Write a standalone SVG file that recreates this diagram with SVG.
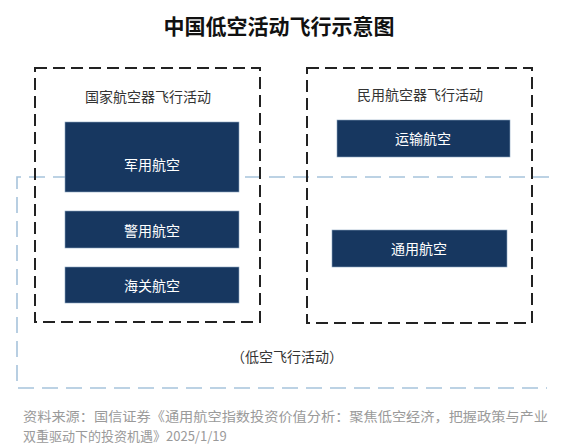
<svg xmlns="http://www.w3.org/2000/svg" width="567" height="448" viewBox="0 0 567 448">
<style>
.t{font-family:"Noto Sans CJK SC","Noto Sans",sans-serif;}
.title{font-size:21px;font-weight:bold;fill:#111;text-anchor:middle;}
.grp{fill:none;stroke:#222;stroke-width:2;stroke-dasharray:12 6;}
.low{fill:none;stroke:#a7c3db;stroke-width:1.6;stroke-dasharray:16 8;}
.box{fill:#173760;stroke:#8aa6c0;stroke-width:0.6;}
.bl{font-size:14px;fill:#fff;text-anchor:middle;}
.gl{font-size:14px;fill:#333;text-anchor:middle;}
.src{font-size:13px;fill:#9a9a9a;font-family:"Noto Sans CJK SC",sans-serif;}
</style>
<rect width="567" height="448" fill="#fff"/>
<text class="t title" x="279" y="34">中国低空活动飞行示意图</text>
<g id="connectors">
<path class="low" d="M549 177 H17 V388 H547"/>
</g>
<g id="national">
<rect class="grp" x="35" y="68" width="225" height="254"/>
<text class="t gl" x="148" y="102">国家航空器飞行活动</text>
</g>
<g id="civil">
<rect class="grp" x="307" y="68" width="225" height="255"/>
<text class="t gl" x="420" y="100">民用航空器飞行活动</text>
</g>
<g id="military">
<rect class="box" x="65" y="122" width="174" height="70"/>
<text class="t bl" x="152" y="170">军用航空</text>
</g>
<g id="police">
<rect class="box" x="65" y="211" width="174" height="37"/>
<text class="t bl" x="152" y="236">警用航空</text>
</g>
<g id="customs">
<rect class="box" x="65" y="267" width="174" height="36"/>
<text class="t bl" x="152" y="291">海关航空</text>
</g>
<g id="transport">
<rect class="box" x="337" y="120" width="173" height="37"/>
<text class="t bl" x="423" y="144">运输航空</text>
</g>
<g id="general">
<rect class="box" x="332" y="230" width="175" height="37"/>
<text class="t bl" x="419" y="254">通用航空</text>
</g>
<g id="lowalt">
<text class="t gl" x="287" y="362">（低空飞行活动）</text>
</g>
<text class="src" x="23" y="421" textLength="525" lengthAdjust="spacingAndGlyphs">资料来源：国信证券《通用航空指数投资价值分析：聚焦低空经济，把握政策与产业</text>
<text class="src" x="23" y="441">双重驱动下的投资机遇》2025/1/19</text>
</svg>
